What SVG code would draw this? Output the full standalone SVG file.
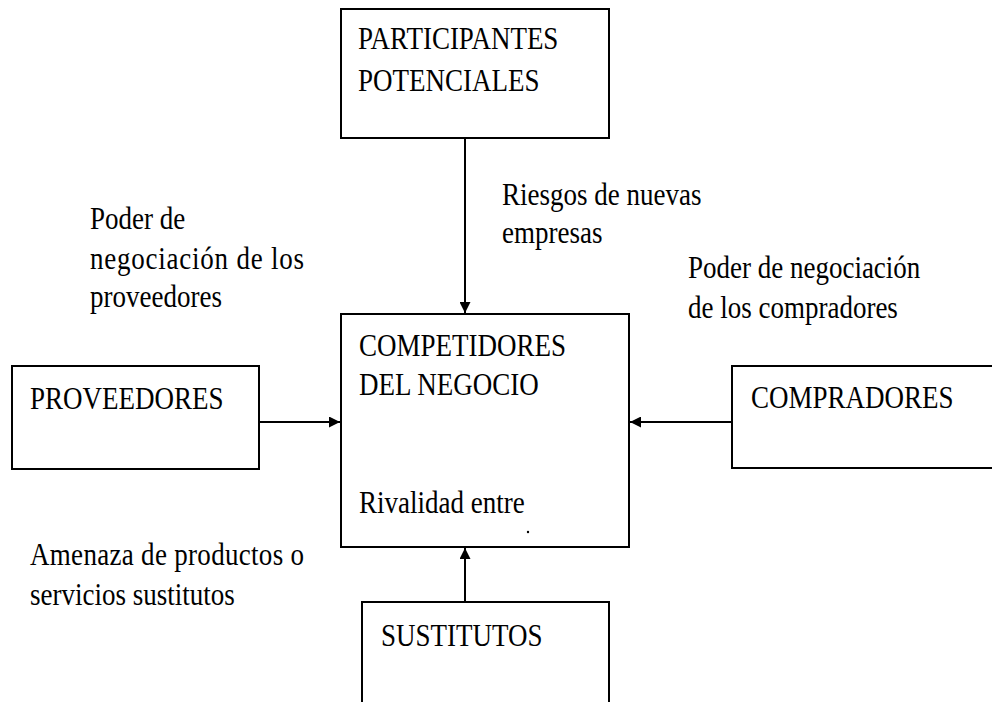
<svg xmlns="http://www.w3.org/2000/svg" width="992" height="702" viewBox="0 0 992 702">
<defs>
<style>
.box{fill:#fff;stroke:#000;stroke-width:2}
.t{font-family:"Liberation Serif","Times New Roman",serif;font-size:27px;fill:#000}
.c{stroke:#000;stroke-width:2;fill:none}
</style>
<marker id="ah" viewBox="0 0 10 10" refX="10" refY="5" markerWidth="5.5" markerHeight="5.5" markerUnits="strokeWidth" orient="auto">
<path d="M0,0 L10,5 L0,10 Z" fill="#000"/>
</marker>
</defs>
<rect width="992" height="702" fill="#fff"/>
<g id="connectors">
<line class="c" x1="465" y1="138" x2="465" y2="313" marker-end="url(#ah)"/>
<line class="c" x1="259" y1="422" x2="340" y2="422" marker-end="url(#ah)"/>
<line class="c" x1="732" y1="422" x2="630" y2="422" marker-end="url(#ah)"/>
<line class="c" x1="465" y1="602" x2="465" y2="548" marker-end="url(#ah)"/>
</g>
<g id="participantes">
<rect class="box" x="341" y="9" width="268" height="129"/>
<text class="t" transform="translate(358,49) scale(1,1.2)">PARTICIPANTES</text>
<text class="t" transform="translate(358,91) scale(1,1.2)">POTENCIALES</text>
</g>
<g id="competidores">
<rect class="box" x="341" y="314" width="288" height="233"/>
<text class="t" transform="translate(359,356) scale(1,1.2)">COMPETIDORES</text>
<text class="t" transform="translate(359,395) scale(1,1.2)">DEL NEGOCIO</text>
<text class="t" transform="translate(359,513) scale(1,1.2)">Rivalidad entre</text>
<circle cx="528" cy="532" r="1.2" fill="#000"/>
</g>
<g id="proveedores">
<rect class="box" x="12" y="366" width="247" height="103"/>
<text class="t" transform="translate(30,409) scale(1,1.2)">PROVEEDORES</text>
</g>
<g id="compradores">
<rect class="box" x="732" y="366" width="280" height="102"/>
<text class="t" transform="translate(751,408) scale(1,1.2)">COMPRADORES</text>
</g>
<g id="sustitutos">
<rect class="box" x="362" y="602" width="247" height="120"/>
<text class="t" transform="translate(381,646) scale(1,1.2)">SUSTITUTOS</text>
</g>
<g id="labels">
<text class="t" transform="translate(502,205) scale(1,1.2)">Riesgos de nuevas</text>
<text class="t" transform="translate(502,243) scale(1,1.2)">empresas</text>
<text class="t" transform="translate(90,229) scale(1,1.2)">Poder de</text>
<text class="t" transform="translate(90,269) scale(1,1.2)" textLength="214" lengthAdjust="spacing">negociación de los</text>
<text class="t" transform="translate(90,307) scale(1,1.2)">proveedores</text>
<text class="t" transform="translate(688,278) scale(1,1.2)">Poder de negociación</text>
<text class="t" transform="translate(688,318) scale(1,1.2)">de los compradores</text>
<text class="t" transform="translate(30,565) scale(1,1.2)" textLength="274" lengthAdjust="spacing">Amenaza de productos o</text>
<text class="t" transform="translate(30,605) scale(1,1.2)">servicios sustitutos</text>
</g>
</svg>
